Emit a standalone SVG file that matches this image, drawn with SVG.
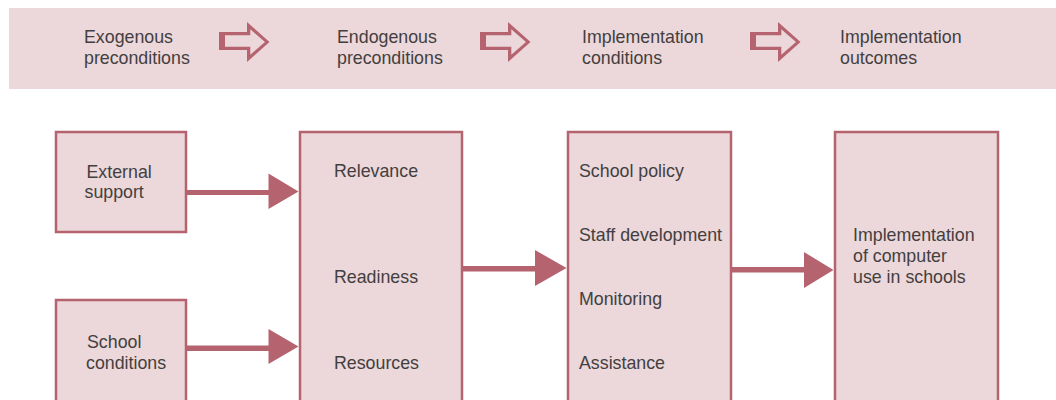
<svg xmlns="http://www.w3.org/2000/svg" width="1056" height="400" viewBox="0 0 1056 400">
  <style>
    text { font-family: "Liberation Sans", Arial, sans-serif; font-size: 17.8px; fill: #433f40; }
    .box { fill: #ecd7da; stroke: #b5646f; stroke-width: 2.5; }
    .arrow { fill: #b5646f; }
    .hollow { fill: #b5646f; fill-rule: evenodd; }
  </style>
  <rect x="9" y="8" width="1047" height="81" fill="#ecd7da"/>
  <g id="header">
    <text x="84" y="43">Exogenous</text>
    <text x="84" y="64">preconditions</text>
    <text x="337" y="43">Endogenous</text>
    <text x="337" y="64">preconditions</text>
    <text x="582" y="43">Implementation</text>
    <text x="582" y="64">conditions</text>
    <text x="840" y="43">Implementation</text>
    <text x="840" y="64">outcomes</text>
    <path id="h1" class="hollow" transform="translate(0,0)" d="M219,32 H247 V22 L269.5,42 L247,62 V50 H219 Z M225,35.3 H250.3 V29.3 L265,42 L250.3,54.7 V46.7 H225 Z"/>
    <path id="h2" class="hollow" transform="translate(261,0)" d="M219,32 H247 V22 L269.5,42 L247,62 V50 H219 Z M225,35.3 H250.3 V29.3 L265,42 L250.3,54.7 V46.7 H225 Z"/>
    <path id="h3" class="hollow" transform="translate(531,0)" d="M219,32 H247 V22 L269.5,42 L247,62 V50 H219 Z M225,35.3 H250.3 V29.3 L265,42 L250.3,54.7 V46.7 H225 Z"/>
  </g>
  <g id="external-support">
    <rect class="box" x="56" y="132" width="130" height="100"/>
    <text x="86.5" y="177.5">External</text>
    <text x="84.5" y="198">support</text>
  </g>
  <g id="school-conditions">
    <rect class="box" x="56" y="300" width="130" height="200"/>
    <text x="87" y="347.5">School</text>
    <text x="86" y="368.5">conditions</text>
  </g>
  <g id="endogenous">
    <rect class="box" x="300" y="132" width="162" height="300"/>
    <text x="334" y="176.5">Relevance</text>
    <text x="334" y="282.5">Readiness</text>
    <text x="334" y="368.5">Resources</text>
  </g>
  <g id="implementation-conditions">
    <rect class="box" x="568" y="132" width="163" height="300"/>
    <text x="579" y="177">School policy</text>
    <text x="579" y="241">Staff development</text>
    <text x="579" y="305">Monitoring</text>
    <text x="579" y="369">Assistance</text>
  </g>
  <g id="implementation-outcomes">
    <rect class="box" x="835" y="132" width="163" height="300"/>
    <text x="853" y="241">Implementation</text>
    <text x="853" y="262">of computer</text>
    <text x="853" y="283">use in schools</text>
  </g>
  <g id="connectors">
    <path class="arrow" d="M187,190 H268.5 V173.5 L298.5,191.5 L268.5,209 V195 H187 Z"/>
    <path class="arrow" d="M187,345.5 H268.5 V329 L298.5,346.5 L268.5,364 V351 H187 Z"/>
    <path class="arrow" d="M463,266 H535 V250 L566.5,268 L535,286 V271.5 H463 Z"/>
    <path class="arrow" d="M732,267 H804 V252 L833.5,270 L804,288 V272.5 H732 Z"/>
  </g>
</svg>
